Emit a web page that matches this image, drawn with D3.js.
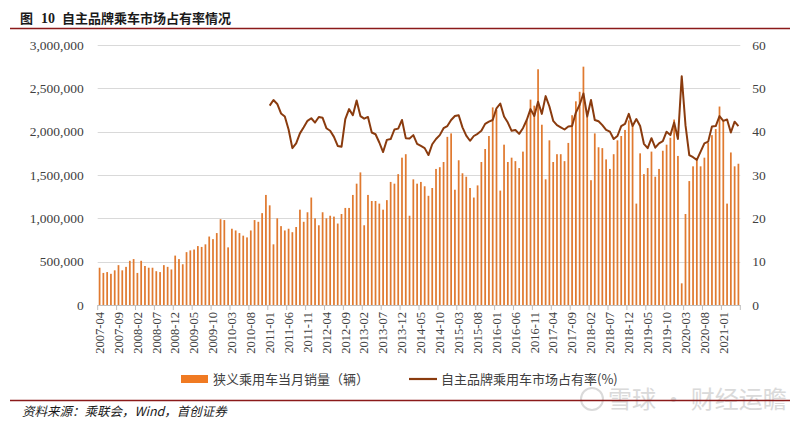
<!DOCTYPE html>
<html>
<head>
<meta charset="utf-8">
<script src="https://cdn.jsdelivr.net/npm/d3@7"></script>
<style>
html,body{margin:0;padding:0;background:#fff;}
svg{display:block;}
</style>
</head>
<body>
<svg id="chart" width="800" height="422"></svg>
<script>
// ---- data ----
const months = (
 "2007-04 2007-05 2007-06 2007-07 2007-08 2007-09 2007-10 2007-11 2007-12 " +
 "2008-01 2008-02 2008-03 2008-04 2008-05 2008-06 2008-07 2008-08 2008-09 2008-10 2008-11 2008-12 " +
 "2009-01 2009-02 2009-03 2009-04 2009-05 2009-06 2009-07 2009-08 2009-09 2009-10 2009-11 2009-12 " +
 "2010-01 2010-02 2010-03 2010-04 2010-05 2010-06 2010-07 2010-08 2010-09 2010-10 2010-11 2010-12 " +
 "2011-01 2011-02 2011-03 2011-04 2011-05 2011-06 2011-07 2011-08 2011-09 2011-10 2011-11 2011-12 " +
 "2012-01 2012-02 2012-03 2012-04 2012-05 2012-06 2012-07 2012-08 2012-09 2012-10 2012-11 2012-12 " +
 "2013-01 2013-02 2013-03 2013-04 2013-05 2013-06 2013-07 2013-08 2013-09 2013-10 2013-11 2013-12 " +
 "2014-01 2014-02 2014-03 2014-04 2014-05 2014-06 2014-07 2014-08 2014-09 2014-10 2014-11 2014-12 " +
 "2015-01 2015-02 2015-03 2015-04 2015-05 2015-06 2015-07 2015-08 2015-09 2015-10 2015-11 2015-12 " +
 "2016-01 2016-02 2016-03 2016-04 2016-05 2016-06 2016-07 2016-08 2016-09 2016-10 2016-11 2016-12 " +
 "2017-01 2017-02 2017-03 2017-04 2017-05 2017-06 2017-07 2017-08 2017-09 2017-10 2017-11 2017-12 " +
 "2018-01 2018-02 2018-03 2018-04 2018-05 2018-06 2018-07 2018-08 2018-09 2018-10 2018-11 2018-12 " +
 "2019-01 2019-02 2019-03 2019-04 2019-05 2019-06 2019-07 2019-08 2019-09 2019-10 2019-11 2019-12 " +
 "2020-01 2020-02 2020-03 2020-04 2020-05 2020-06 2020-07 2020-08 2020-09 2020-10 2020-11 2020-12 " +
 "2021-01 2021-02 2021-03 2021-04 2021-05").split(" ");

// 狭义乘用车当月销量（辆）, in millions
const salesM = [
 0.43,0.37,0.38,0.36,0.40,0.46,0.40,0.44,0.51,
 0.53,0.37,0.51,0.45,0.43,0.43,0.39,0.38,0.46,0.44,0.41,0.57,
 0.53,0.47,0.61,0.63,0.64,0.68,0.67,0.70,0.79,0.76,0.83,0.99,
 0.98,0.665,0.88,0.86,0.83,0.80,0.78,0.86,0.98,0.96,1.06,1.27,
 1.15,0.70,1.00,0.91,0.86,0.88,0.84,0.90,1.10,0.96,1.07,1.24,
 1.00,0.92,1.07,1.00,1.03,1.02,0.94,1.05,1.12,1.12,1.27,1.40,
 1.53,0.92,1.27,1.20,1.20,1.17,1.10,1.21,1.42,1.40,1.51,1.70,
 1.74,1.03,1.45,1.40,1.42,1.37,1.26,1.35,1.57,1.59,1.65,1.94,
 1.98,1.33,1.67,1.52,1.48,1.35,1.24,1.38,1.65,1.80,1.95,2.28,
 2.25,1.32,1.85,1.65,1.70,1.66,1.58,1.77,2.13,2.37,2.30,2.72,
 2.08,1.45,1.90,1.65,1.74,1.74,1.66,1.87,2.19,2.35,2.46,2.75,
 2.17,1.44,1.98,1.82,1.81,1.68,1.57,1.74,1.90,1.95,2.02,2.13,
 2.07,1.17,1.75,1.51,1.58,1.77,1.48,1.57,1.78,1.85,1.93,2.14,
 1.72,0.25,1.05,1.43,1.60,1.67,1.60,1.70,1.87,1.96,2.03,2.29,
 2.13,1.17,1.76,1.60,1.63
];

// 自主品牌乘用车市场占有率(%), from 2011-01 onward
const shareFrom2011 = [
 46.0,47.3,46.4,44.2,43.5,40.5,36.2,37.3,39.6,41.0,42.5,43.1,
 42.1,43.4,43.2,40.8,40.2,38.8,36.7,36.5,42.9,45.2,43.8,47.2,
 43.6,43.0,43.4,39.8,39.4,37.5,35.3,38.1,38.3,40.5,40.7,42.7,
 38.5,38.4,39.2,37.2,36.7,36.2,34.6,37.1,38.3,39.2,40.8,41.3,
 42.7,43.6,43.8,41.0,39.1,37.9,39.0,39.5,40.2,41.8,42.3,42.7,
 45.4,46.5,43.5,42.1,40.2,40.4,39.5,40.8,42.7,45.2,43.6,46.9,
 44.1,48.2,45.8,42.5,41.5,41.0,40.5,41.2,41.3,44.4,46.2,48.8,
 43.5,47.3,42.7,42.4,41.5,40.4,40.0,38.3,39.0,41.3,41.8,44.1,
 41.3,42.9,41.3,37.2,36.2,38.5,36.3,37.3,37.8,40.0,39.2,42.1,
 38.3,52.8,41.5,34.6,34.1,33.5,35.4,37.3,37.7,41.2,41.3,43.6,
 42.5,42.8,39.8,42.3,41.3
];
const shareStart = "2011-01";

const leftTicks = [0, 500000, 1000000, 1500000, 2000000, 2500000, 3000000];
const rightTicks = [0, 10, 20, 30, 40, 50, 60];
const labelEvery = 5;

const seriesNames = ["狭义乘用车当月销量（辆）", "自主品牌乘用车市场占有率(%)"];
const titleText = ["图", "10", "自主品牌乘车市场占有率情况"];
const sourceText = "资料来源：乘联会，Wind，首创证券";

// ---- build ----
const startIdx = months.indexOf(shareStart);
const rows = months.map((m, i) => ({
  m,
  sales: salesM[i] * 1e6,
  share: (i >= startIdx && i - startIdx < shareFrom2011.length) ? shareFrom2011[i - startIdx] : null
}));

const svg = d3.select("#chart");
const L = 97.7, R = 740.3, T = 45, B = 305;

const x = d3.scaleBand().domain(months).range([L, R]).padding(0);
const yL = d3.scaleLinear().domain([0, 3000000]).range([B, T]);
const yR = d3.scaleLinear().domain([0, 60]).range([B, T]);

const serif = "'Liberation Serif','Times New Roman',serif";
const cjk = "'Noto Sans CJK SC','Noto Sans',sans-serif";
const textCol = "#404040";

// Title
const title = svg.append("text").attr("y", 23).attr("font-size", 13).attr("font-weight", "bold").attr("fill", "#1a1a1a");
title.append("tspan").attr("x", 20).attr("font-family", cjk).text(titleText[0]);
title.append("tspan").attr("x", 41).attr("font-family", serif).attr("font-size", 14).text(titleText[1]);
title.append("tspan").attr("x", 62).attr("font-family", cjk).text(titleText[2]);
svg.append("line").attr("x1", 10).attr("x2", 790).attr("y1", 28.5).attr("y2", 28.5)
  .attr("stroke", "#8b1a1a").attr("stroke-width", 1.5);

// gridlines
svg.append("g").selectAll("line").data(leftTicks).join("line")
  .attr("x1", L).attr("x2", R)
  .attr("y1", d => Math.round(yL(d)) + 0.5).attr("y2", d => Math.round(yL(d)) + 0.5)
  .attr("stroke", d => d === 0 ? "#bfbfbf" : "#d9d9d9").attr("stroke-width", 1);

// left axis
const axL = svg.append("g").attr("transform", `translate(${L},0)`)
  .call(d3.axisLeft(yL).tickValues(leftTicks).tickFormat(d3.format(",")).tickSize(0).tickPadding(14));
axL.select(".domain").remove();
axL.selectAll("text").attr("font-family", serif).attr("font-size", 13.5).attr("fill", textCol);

// right axis
const axR = svg.append("g").attr("transform", `translate(${R},0)`)
  .call(d3.axisRight(yR).tickValues(rightTicks).tickSize(0).tickPadding(12));
axR.select(".domain").remove();
axR.selectAll("text").attr("font-family", serif).attr("font-size", 13.5).attr("fill", textCol);

// bars
const bw = x.bandwidth() * 0.46;
svg.append("g").selectAll("rect").data(rows).join("rect")
  .attr("x", d => x(d.m) + x.bandwidth() / 2 - bw / 2)
  .attr("width", bw)
  .attr("y", d => yL(d.sales))
  .attr("height", d => B - yL(d.sales))
  .attr("fill", "#e07a30");

// bottom axis ticks (category boundaries every 5)
const tickIdx = d3.range(0, months.length + 1, labelEvery);
const tickX = i => i < months.length ? x(months[i]) : R;
svg.append("g").selectAll("line").data(tickIdx).join("line")
  .attr("x1", i => tickX(i)).attr("x2", i => tickX(i))
  .attr("y1", B).attr("y2", B + 5)
  .attr("stroke", "#bfbfbf");

// x labels
svg.append("g").selectAll("text").data(months.filter((m, i) => i % labelEvery === 0)).join("text")
  .attr("transform", d => `translate(${x(d) + x.bandwidth() / 2 + 4.3},${B + 7}) rotate(-90)`)
  .attr("text-anchor", "end")
  .attr("font-family", serif).attr("font-size", 12.5).attr("fill", textCol)
  .text(d => d);

// line
const line = d3.line()
  .defined(d => d.share !== null)
  .x(d => x(d.m) + x.bandwidth() / 2)
  .y(d => yR(d.share));
svg.append("path").datum(rows).attr("d", line)
  .attr("fill", "none").attr("stroke", "#8a3b0e").attr("stroke-width", 2).attr("stroke-linejoin", "round");

// legend
const lg = svg.append("g");
lg.append("rect").attr("x", 181).attr("y", 375).attr("width", 27).attr("height", 8).attr("fill", "#f07a22");
lg.append("text").attr("x", 213).attr("y", 384).attr("font-family", cjk).attr("font-size", 13).attr("fill", textCol).text(seriesNames[0]);
lg.append("line").attr("x1", 409).attr("x2", 437).attr("y1", 379).attr("y2", 379).attr("stroke", "#8a3b0e").attr("stroke-width", 2.2);
lg.append("text").attr("x", 441).attr("y", 384).attr("font-family", cjk).attr("font-size", 13).attr("fill", textCol).text(seriesNames[1]);

// watermark
svg.append("text").attr("x", 608).attr("y", 408).attr("font-family", cjk).attr("font-size", 24)
  .attr("fill", "#d4d4d4").attr("opacity", 0.85).text("雪球 · 财经运瞻");
svg.append("circle").attr("cx", 592).attr("cy", 399).attr("r", 11).attr("fill", "none")
  .attr("stroke", "#d4d4d4").attr("stroke-width", 2).attr("opacity", 0.85);

// footer
svg.append("line").attr("x1", 10).attr("x2", 790).attr("y1", 400.5).attr("y2", 400.5)
  .attr("stroke", "#8b1a1a").attr("stroke-width", 1.5);
svg.append("text").attr("x", 22).attr("y", 416).attr("font-family", cjk).attr("font-size", 12.5)
  .attr("font-style", "italic").attr("fill", "#1a1a1a").text(sourceText);
</script>
</body>
</html>
